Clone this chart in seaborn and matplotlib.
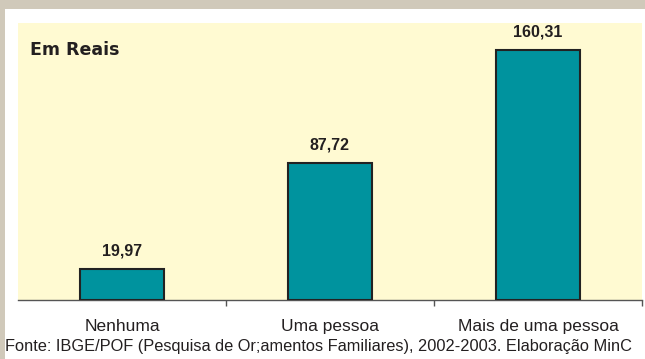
import matplotlib
matplotlib.use("Agg")
import matplotlib.pyplot as plt
import seaborn as sns
import pandas as pd
from matplotlib.patches import Rectangle

categorias = ["Nenhuma", "Uma pessoa", "Mais de uma pessoa"]
valores = [19.97, 87.72, 160.31]
rotulos = ["19,97", "87,72", "160,31"]
titulo = "Em Reais"
fonte = "Fonte: IBGE/POF (Pesquisa de Or;amentos Familiares), 2002-2003. Elaboração MinC"

df = pd.DataFrame({"categoria": categorias, "valor": valores})

sns.set_theme(style="white")
plt.rcParams["font.family"] = ["Liberation Sans", "DejaVu Sans"]

W, H = 645, 359
fig = plt.figure(figsize=(W / 100, H / 100), dpi=100)
fig.patch.set_facecolor("white")

# frame decorations: tan top band and left strip
fig.patches.append(Rectangle((0, 1 - 9 / H), 1, 9 / H, transform=fig.transFigure,
                             facecolor="#d0c9ba", edgecolor="none", zorder=0))
fig.patches.append(Rectangle((0, 0), 5 / W, 1, transform=fig.transFigure,
                             facecolor="#d0c9ba", edgecolor="none", zorder=0))

left, right, top, bottom = 18 / W, 642 / W, 1 - 23 / H, 1 - 300 / H
ax = fig.add_axes([left, bottom, right - left, top - bottom])
ax.set_facecolor("#fffad2")

teal = "#00939e"
sns.barplot(data=df, x="categoria", y="valor", color=teal, saturation=1,
            width=0.404, edgecolor="#222222", linewidth=1.5, ax=ax, zorder=3)

ax.set_xlim(-0.5, 2.5)
ax.set_ylim(0, 177.5)
ax.set_xlabel("")
ax.set_ylabel("")
ax.set_yticks([])
for s in ["top", "right", "left"]:
    ax.spines[s].set_visible(False)
ax.spines["bottom"].set_color("#555555")
ax.spines["bottom"].set_linewidth(1.0)

ax.set_xticks(range(len(categorias)))
ax.set_xticklabels(categorias, fontsize=12.5, color="#231f20")
ax.tick_params(axis="x", which="major", bottom=True, length=0, pad=13.5)
ax.set_xticks([0.5, 1.5, 2.5], minor=True)
ax.tick_params(axis="x", which="minor", bottom=True, length=4, width=1,
               color="#555555", direction="out")

for i, (v, r) in enumerate(zip(valores, rotulos)):
    ax.annotate(r, (i, v), xytext=(0, 7.5), textcoords="offset points",
                ha="center", va="bottom", fontsize=11.5, fontweight="bold",
                color="#231f20")

fig.text(30 / W, 1 - 50 / H, titulo, fontsize=12.5, fontweight="heavy",
         family=["DejaVu Sans"], color="#231f20", ha="left", va="center")

fig.text(5 / W, 1 - 347 / H, fonte, fontsize=11.8, color="#231f20",
         ha="left", va="center")

fig.savefig("out.png", dpi=100)
